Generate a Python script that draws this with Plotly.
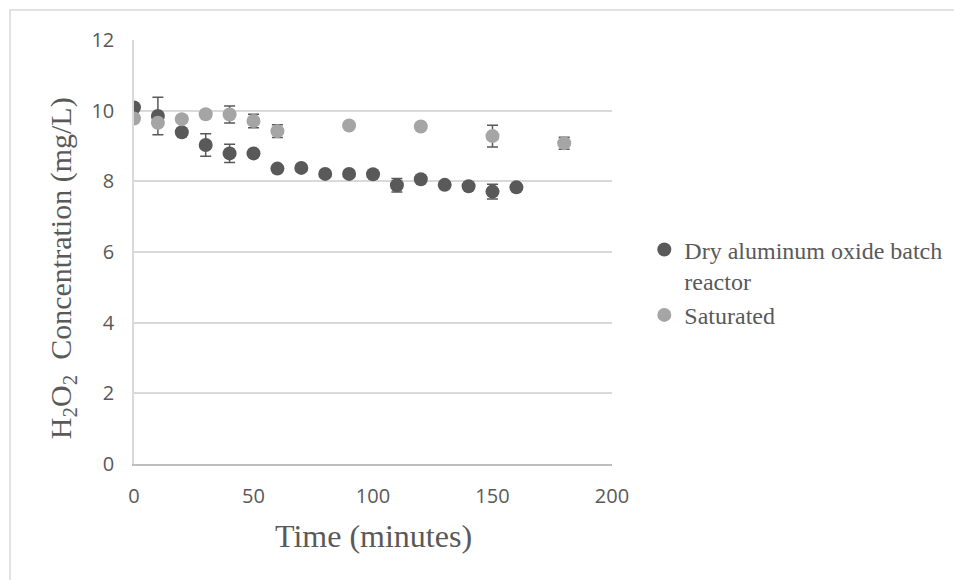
import plotly.graph_objects as go

# Data
dry_time = [0, 10, 20, 30, 40, 50, 60, 70, 80, 90, 100, 110, 120, 130, 140, 150, 160]
dry_conc = [10.09, 9.85, 9.39, 9.03, 8.79, 8.79, 8.36, 8.38, 8.21, 8.21, 8.20, 7.89, 8.06, 7.90, 7.86, 7.71, 7.83]
dry_err = [0.08, 0.53, 0.08, 0.32, 0.26, 0.08, 0.08, 0.08, 0.08, 0.08, 0.08, 0.19, 0.08, 0.08, 0.08, 0.21, 0.08]

sat_time = [0, 10, 20, 30, 40, 50, 60, 90, 120, 150, 180]
sat_conc = [9.78, 9.66, 9.76, 9.90, 9.89, 9.71, 9.42, 9.58, 9.55, 9.28, 9.08]
sat_err = [0.08, 0.08, 0.08, 0.08, 0.24, 0.19, 0.18, 0.08, 0.08, 0.31, 0.17]

x_ticks = [0, 50, 100, 150, 200]
y_ticks = [0, 2, 4, 6, 8, 10, 12]

DARK = "#595959"
LIGHT = "#A5A5A5"
SERIF = "Liberation Serif, Times New Roman, serif"
SANS = "Open Sans, Calibri, sans-serif"

fig = go.Figure()
fig.add_trace(go.Scatter(
    x=dry_time, y=dry_conc, mode="markers",
    name="Dry aluminum oxide batch<br>reactor",
    marker=dict(color=DARK, size=14),
    error_y=dict(type="data", array=dry_err, visible=True, color=DARK, thickness=1.5, width=5.5),
))
fig.add_trace(go.Scatter(
    x=sat_time, y=sat_conc, mode="markers",
    name="Saturated",
    marker=dict(color=LIGHT, size=14),
    error_y=dict(type="data", array=sat_err, visible=True, color=DARK, thickness=1.5, width=5.5),
))

fig.update_layout(
    width=954, height=580,
    margin=dict(l=134, r=342, t=40, b=116, autoexpand=False),
    paper_bgcolor="white", plot_bgcolor="white",
    showlegend=True,
    legend=dict(
        x=1.0676, y=0.558, xanchor="left", yanchor="top",
        font=dict(family=SERIF, size=24, color=DARK),
        valign="top", itemwidth=30, tracegroupgap=14,
        bgcolor="rgba(0,0,0,0)",
    ),
    xaxis=dict(
        range=[0, 200], tickvals=x_ticks, showgrid=False, zeroline=False,
        showline=True, linecolor="#BFBFBF", linewidth=1.5,
        ticks="", ticklabelstandoff=13,
        tickfont=dict(family=SANS, size=20, color=DARK),
        fixedrange=True,
    ),
    yaxis=dict(
        range=[0, 12], tickvals=y_ticks, showgrid=True, gridcolor="#D9D9D9", gridwidth=1.5,
        zeroline=False, showline=True, linecolor="#D9D9D9", linewidth=1.5,
        ticks="", ticklabelstandoff=14,
        tickfont=dict(family=SANS, size=20, color=DARK),
        fixedrange=True,
    ),
    annotations=[
        dict(text="Time (minutes)", xref="paper", yref="paper", x=0.5, y=-0.17,
             xanchor="center", yanchor="middle", showarrow=False,
             font=dict(family=SERIF, size=32, color=DARK)),
        dict(text="H<sub>2</sub>O<sub>2</sub>  Concentration (mg/L)", xref="paper", yref="paper",
             x=-0.1485, y=0.462, xanchor="center", yanchor="middle", showarrow=False, textangle=-90,
             font=dict(family=SERIF, size=30, color=DARK)),
    ],
    shapes=[
        dict(type="rect", xref="paper", yref="paper",
             x0=(10 - 134) / 478, x1=(970 - 134) / 478,
             y0=(464 - 600) / 424, y1=(464 - 10) / 424,
             line=dict(color="#D9D9D9", width=1.5), fillcolor="rgba(0,0,0,0)", layer="below"),
    ],
)

fig.write_html("out.html")
